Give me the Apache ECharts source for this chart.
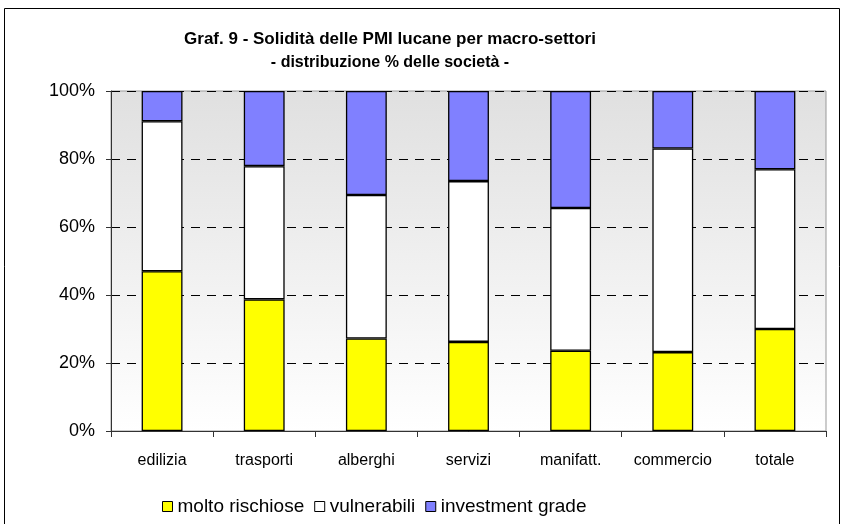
<!DOCTYPE html>
<html>
<head>
<meta charset="utf-8">
<script src="https://cdn.jsdelivr.net/npm/echarts@6/dist/echarts.min.js"></script>
<style>
html, body { margin: 0; padding: 0; background: #fff; }
#chart { width: 845px; height: 524px; }
</style>
</head>
<body>
<div id="chart"></div>
<script>
// categories and shares (%)
var categories = ['edilizia', 'trasporti', 'alberghi', 'servizi', 'manifatt.', 'commercio', 'totale'];
var moltoRischiose = [47.0, 38.7, 27.2, 26.2, 23.6, 23.2, 30.0];
var vulnerabili = [44.1, 39.2, 42.2, 47.3, 42.0, 59.9, 47.0];
var investmentGrade = [8.9, 22.1, 30.6, 26.5, 34.4, 16.9, 23.0];
var yTicks = [0, 20, 40, 60, 80, 100];

var fontName = '"Liberation Sans", Arial, sans-serif';

var myChart = echarts.init(document.getElementById('chart'));

function barSeries(name, data, color) {
    return {
        name: name,
        type: 'bar',
        stack: 'tot',
        data: data,
        barWidth: '40%',
        itemStyle: { color: color, borderColor: '#000', borderWidth: 1.3 },
        emphasis: { disabled: true }
    };
}

var option = {
    animation: false,
    backgroundColor: '#fff',
    title: {
        text: 'Graf. 9 - Solidità delle PMI lucane per macro-settori',
        subtext: '- distribuzione % delle società -',
        left: 385,
        textAlign: 'center',
        top: 26,
        itemGap: 7,
        textStyle: { fontFamily: fontName, fontWeight: 'bold', fontSize: 17, color: '#000' },
        subtextStyle: { fontFamily: fontName, fontWeight: 'bold', fontSize: 16, color: '#000' }
    },
    legend: {
        left: 157,
        top: 492,
        icon: 'rect',
        itemWidth: 10,
        itemHeight: 10,
        itemGap: 10,
        textStyle: { fontFamily: fontName, fontSize: 19, color: '#000' },
        itemStyle: { borderColor: '#000', borderWidth: 1 },
        data: ['molto rischiose', 'vulnerabili', 'investment grade']
    },
    grid: {
        left: 111,
        right: 19,
        top: 91,
        bottom: 93,
        show: true,
        borderColor: '#999',
        borderWidth: 1,
        backgroundColor: {
            type: 'linear', x: 0, y: 0, x2: 0, y2: 1,
            colorStops: [{ offset: 0, color: '#e0e0e0' }, { offset: 1, color: '#ffffff' }]
        }
    },
    xAxis: {
        type: 'category',
        data: categories,
        axisLine: { lineStyle: { color: '#333' } },
        axisTick: { show: true, length: 6, lineStyle: { color: '#333' } },
        axisLabel: { fontFamily: fontName, fontSize: 16, color: '#000', margin: 22 }
    },
    yAxis: {
        type: 'value',
        min: 0,
        max: 100,
        interval: 20,
        axisLine: { show: true, lineStyle: { color: '#333' } },
        axisTick: { show: true, length: 5, lineStyle: { color: '#333' } },
        axisLabel: {
            fontFamily: fontName, fontSize: 18, color: '#000', margin: 16,
            formatter: function(v) { return yTicks.indexOf(v) >= 0 ? v + '%' : ''; }
        },
        splitLine: { show: true, lineStyle: { color: '#000', type: [9, 7], width: 1 } }
    },
    series: [
        barSeries('molto rischiose', moltoRischiose, '#ffff00'),
        barSeries('vulnerabili', vulnerabili, '#ffffff'),
        barSeries('investment grade', investmentGrade, '#8080ff')
    ],
    graphic: [{
        type: 'rect',
        shape: { x: 4.5, y: 8.5, width: 835, height: 520 },
        style: { fill: 'none', stroke: '#000', lineWidth: 1 },
        silent: true
    }]
};
myChart.setOption(option);
</script>
</body>
</html>
